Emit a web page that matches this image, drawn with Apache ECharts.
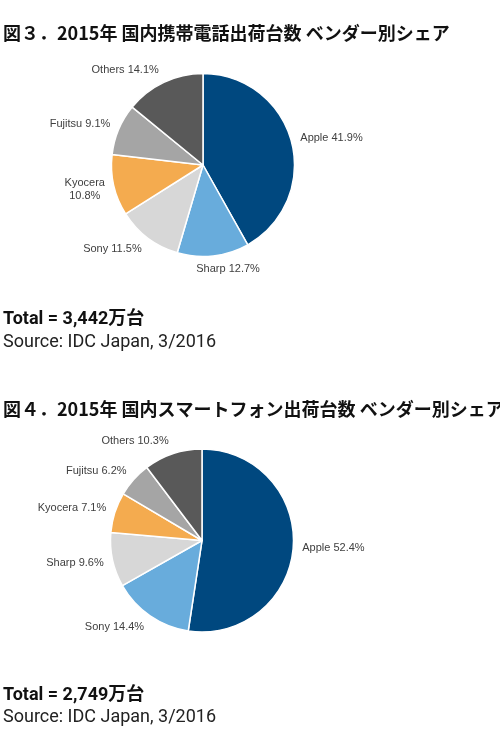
<!DOCTYPE html>
<html>
<head>
<meta charset="utf-8">
<script src="https://cdn.jsdelivr.net/npm/echarts@6/dist/echarts.min.js"></script>
<style>
html,body{margin:0;padding:0;background:#fff;}
#chart{width:500px;height:748px;}
</style>
</head>
<body>
<div id="chart"></div>
<script>
// Figure 3: all mobile phones
const title1 = '図３．2015年 国内携帯電話出荷台数 ベンダー別シェア';
const vendors1 = ['Apple', 'Sharp', 'Sony', 'Kyocera', 'Fujitsu', 'Others'];
const shares1 = [41.9, 12.7, 11.5, 10.8, 9.1, 14.1];
const total1 = 'Total = 3,442万台';

// Figure 4: smartphones
const title2 = '図４．2015年 国内スマートフォン出荷台数 ベンダー別シェア';
const vendors2 = ['Apple', 'Sony', 'Sharp', 'Kyocera', 'Fujitsu', 'Others'];
const shares2 = [52.4, 14.4, 9.6, 7.1, 6.2, 10.3];
const total2 = 'Total = 2,749万台';

const source = 'Source: IDC Japan, 3/2016';
const sliceColors = ['#00487f', '#68acdc', '#d7d7d7', '#f4ab4f', '#a5a5a5', '#595959'];

const chart = echarts.init(document.getElementById('chart'), null, {renderer: 'canvas'});

// mid-angle direction of each slice (clockwise from 12 o'clock)
function directions(shares) {
  const sum = shares.reduce((a, b) => a + b, 0);
  let acc = 0;
  return shares.map(s => {
    const mid = (acc + s / 2) / sum * Math.PI * 2;
    acc += s;
    return [Math.sin(mid), -Math.cos(mid)];
  });
}
const dirs = [directions(shares1), directions(shares2)];

function pieSeries(vendors, shares, center, twoLine) {
  return {
    type: 'pie',
    center: center,
    radius: 91.5,
    startAngle: 90,
    clockwise: true,
    avoidLabelOverlap: false,
    animation: false,
    silent: true,
    data: vendors.map((v, i) => ({name: v, value: shares[i], itemStyle: {color: sliceColors[i]}})),
    itemStyle: {borderColor: '#ffffff', borderWidth: 1.5},
    label: {
      show: true,
      position: 'outside',
      fontFamily: 'Liberation Sans, Arial, sans-serif',
      fontSize: 11,
      color: '#404040',
      lineHeight: 13,
      distanceToLabelLine: 2,
      formatter: p => (twoLine.indexOf(p.name) >= 0 ? p.name + '\n' : p.name + ' ') + p.value.toFixed(1) + '%'
    },
    labelLine: {show: false, length: 7, length2: 0},
    labelLayout: function (p) {
      const d = dirs[p.seriesIndex][p.dataIndex];
      const w = p.labelRect.width, h = p.labelRect.height;
      const out = {dy: d[1] * h / 2};
      if (Math.abs(d[0]) < 0.3) {
        out.dx = -Math.sign(d[0]) * w * 0.5 * (0.3 - Math.abs(d[0])) / 0.3;
      }
      if (h > 20) {
        out.align = 'center';
        out.dx = (d[0] < 0 ? -1 : 1) * w / 2;
      }
      return out;
    }
  };
}

const titleFont = {fontFamily: 'Noto Sans CJK JP', fontSize: 18, fontWeight: 'bold', color: '#111111'};
const totalFont = {fontFamily: 'Roboto, Noto Sans CJK JP', fontSize: 18, fontWeight: 'bold', color: '#111111'};
const srcFont = {fontFamily: 'Roboto, Noto Sans CJK JP', fontSize: 18, fontWeight: 'normal', color: '#222222'};

chart.setOption({
  backgroundColor: '#ffffff',
  animation: false,
  title: [
    {text: title1, left: 3, top: 24, padding: 0, textStyle: titleFont},
    {text: total1, left: 3, top: 311, padding: 0, textStyle: totalFont},
    {text: source, left: 3, top: 334, padding: 0, textStyle: srcFont},
    {text: title2, left: 3, top: 400, padding: 0, textStyle: titleFont},
    {text: total2, left: 3, top: 687, padding: 0, textStyle: totalFont},
    {text: source, left: 3, top: 709, padding: 0, textStyle: srcFont}
  ],
  series: [
    pieSeries(vendors1, shares1, [203, 165], ['Kyocera']),
    pieSeries(vendors2, shares2, [202, 540.5], [])
  ]
});
</script>
</body>
</html>
